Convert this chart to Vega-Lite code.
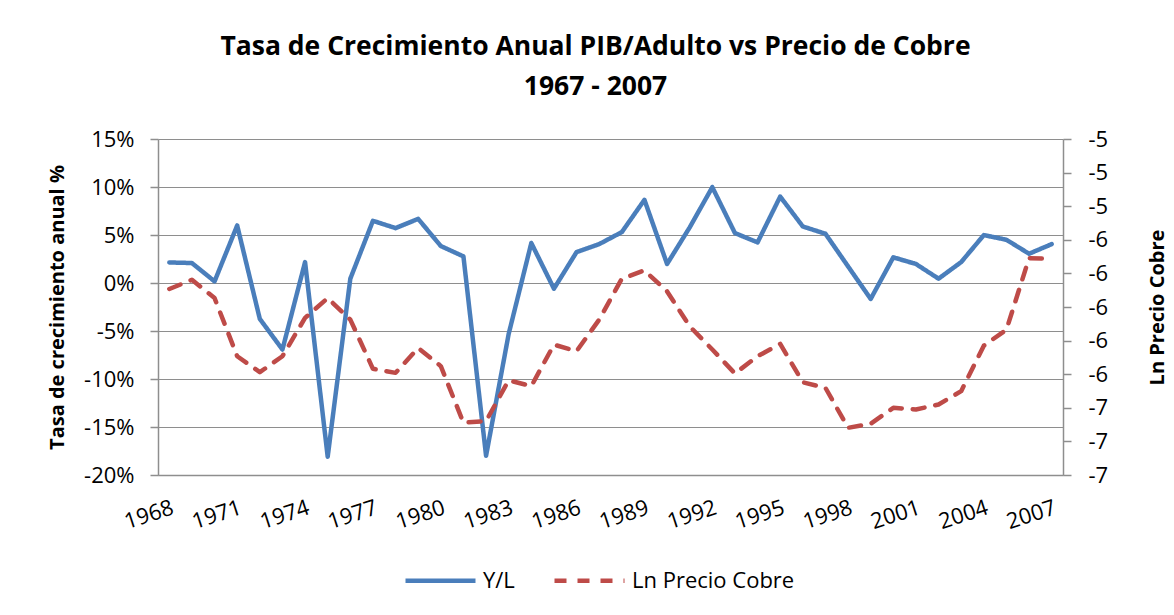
{
  "$schema": "https://vega.github.io/schema/vega-lite/v6.json",
  "width": 905,
  "height": 336,
  "autosize": {"type": "none"},
  "padding": {"left": 158, "top": 139, "right": 111, "bottom": 140},
  "background": "white",
  "title": {
    "text": ["Tasa de Crecimiento Anual PIB/Adulto vs Precio de Cobre", "1967 - 2007"],
    "font": "Open Sans",
    "fontSize": 26.5,
    "fontWeight": "bold",
    "color": "black",
    "anchor": "middle",
    "offset": 28,
    "lineHeight": 40,
    "dx": -15
  },
  "config": {
    "view": {"stroke": null},
    "font": "Open Sans",
    "axis": {
      "labelFont": "Open Sans",
      "titleFont": "Open Sans",
      "labelColor": "black",
      "titleColor": "black",
      "labelFontSize": 22,
      "titleFontSize": 20,
      "titleFontWeight": "bold",
      "domainColor": "#8E8E8E",
      "tickColor": "#8E8E8E",
      "gridColor": "#8E8E8E",
      "domainWidth": 1.5,
      "tickWidth": 1.5,
      "gridWidth": 1.2
    },
    "legend": {
      "labelFont": "Open Sans",
      "labelFontSize": 22,
      "labelColor": "black",
      "labelLimit": 400
    }
  },
  "data": {
    "values": [
      {"year": 1968, "serie": "Y/L", "value": 2.14},
      {"year": 1969, "serie": "Y/L", "value": 2.08},
      {"year": 1970, "serie": "Y/L", "value": 0.17},
      {"year": 1971, "serie": "Y/L", "value": 5.99},
      {"year": 1972, "serie": "Y/L", "value": -3.74},
      {"year": 1973, "serie": "Y/L", "value": -6.93},
      {"year": 1974, "serie": "Y/L", "value": 2.18},
      {"year": 1975, "serie": "Y/L", "value": -18.1},
      {"year": 1976, "serie": "Y/L", "value": 0.45},
      {"year": 1977, "serie": "Y/L", "value": 6.48},
      {"year": 1978, "serie": "Y/L", "value": 5.72},
      {"year": 1979, "serie": "Y/L", "value": 6.68},
      {"year": 1980, "serie": "Y/L", "value": 3.85},
      {"year": 1981, "serie": "Y/L", "value": 2.77},
      {"year": 1982, "serie": "Y/L", "value": -18.0},
      {"year": 1983, "serie": "Y/L", "value": -5.3},
      {"year": 1984, "serie": "Y/L", "value": 4.16},
      {"year": 1985, "serie": "Y/L", "value": -0.59},
      {"year": 1986, "serie": "Y/L", "value": 3.22},
      {"year": 1987, "serie": "Y/L", "value": 4.05},
      {"year": 1988, "serie": "Y/L", "value": 5.3},
      {"year": 1989, "serie": "Y/L", "value": 8.66},
      {"year": 1990, "serie": "Y/L", "value": 1.98},
      {"year": 1991, "serie": "Y/L", "value": 5.79},
      {"year": 1992, "serie": "Y/L", "value": 9.98},
      {"year": 1993, "serie": "Y/L", "value": 5.2},
      {"year": 1994, "serie": "Y/L", "value": 4.23},
      {"year": 1995, "serie": "Y/L", "value": 9.0},
      {"year": 1996, "serie": "Y/L", "value": 5.89},
      {"year": 1997, "serie": "Y/L", "value": 5.13},
      {"year": 1998, "serie": "Y/L", "value": 1.73},
      {"year": 1999, "serie": "Y/L", "value": -1.66},
      {"year": 2000, "serie": "Y/L", "value": 2.67},
      {"year": 2001, "serie": "Y/L", "value": 1.98},
      {"year": 2002, "serie": "Y/L", "value": 0.45},
      {"year": 2003, "serie": "Y/L", "value": 2.18},
      {"year": 2004, "serie": "Y/L", "value": 4.99},
      {"year": 2005, "serie": "Y/L", "value": 4.5},
      {"year": 2006, "serie": "Y/L", "value": 3.05},
      {"year": 2007, "serie": "Y/L", "value": 4.05},
      {"year": 1968, "serie": "Ln Precio Cobre", "value": -5.893},
      {"year": 1969, "serie": "Ln Precio Cobre", "value": -5.838},
      {"year": 1970, "serie": "Ln Precio Cobre", "value": -5.947},
      {"year": 1971, "serie": "Ln Precio Cobre", "value": -6.293},
      {"year": 1972, "serie": "Ln Precio Cobre", "value": -6.388},
      {"year": 1973, "serie": "Ln Precio Cobre", "value": -6.293},
      {"year": 1974, "serie": "Ln Precio Cobre", "value": -6.065},
      {"year": 1975, "serie": "Ln Precio Cobre", "value": -5.947},
      {"year": 1976, "serie": "Ln Precio Cobre", "value": -6.075},
      {"year": 1977, "serie": "Ln Precio Cobre", "value": -6.368},
      {"year": 1978, "serie": "Ln Precio Cobre", "value": -6.392},
      {"year": 1979, "serie": "Ln Precio Cobre", "value": -6.244},
      {"year": 1980, "serie": "Ln Precio Cobre", "value": -6.352},
      {"year": 1981, "serie": "Ln Precio Cobre", "value": -6.689},
      {"year": 1982, "serie": "Ln Precio Cobre", "value": -6.679},
      {"year": 1983, "serie": "Ln Precio Cobre", "value": -6.436},
      {"year": 1984, "serie": "Ln Precio Cobre", "value": -6.471},
      {"year": 1985, "serie": "Ln Precio Cobre", "value": -6.224},
      {"year": 1986, "serie": "Ln Precio Cobre", "value": -6.263},
      {"year": 1987, "serie": "Ln Precio Cobre", "value": -6.075},
      {"year": 1988, "serie": "Ln Precio Cobre", "value": -5.832},
      {"year": 1989, "serie": "Ln Precio Cobre", "value": -5.782},
      {"year": 1990, "serie": "Ln Precio Cobre", "value": -5.907},
      {"year": 1991, "serie": "Ln Precio Cobre", "value": -6.115},
      {"year": 1992, "serie": "Ln Precio Cobre", "value": -6.253},
      {"year": 1993, "serie": "Ln Precio Cobre", "value": -6.396},
      {"year": 1994, "serie": "Ln Precio Cobre", "value": -6.293},
      {"year": 1995, "serie": "Ln Precio Cobre", "value": -6.22},
      {"year": 1996, "serie": "Ln Precio Cobre", "value": -6.448},
      {"year": 1997, "serie": "Ln Precio Cobre", "value": -6.481},
      {"year": 1998, "serie": "Ln Precio Cobre", "value": -6.719},
      {"year": 1999, "serie": "Ln Precio Cobre", "value": -6.695},
      {"year": 2000, "serie": "Ln Precio Cobre", "value": -6.6},
      {"year": 2001, "serie": "Ln Precio Cobre", "value": -6.61},
      {"year": 2002, "serie": "Ln Precio Cobre", "value": -6.58},
      {"year": 2003, "serie": "Ln Precio Cobre", "value": -6.501},
      {"year": 2004, "serie": "Ln Precio Cobre", "value": -6.23},
      {"year": 2005, "serie": "Ln Precio Cobre", "value": -6.135},
      {"year": 2006, "serie": "Ln Precio Cobre", "value": -5.709},
      {"year": 2007, "serie": "Ln Precio Cobre", "value": -5.713}
    ]
  },
  "encoding": {
    "x": {
      "field": "year",
      "type": "ordinal",
      "scale": {"type": "point", "padding": 0.5},
      "axis": {
        "values": [1968, 1971, 1974, 1977, 1980, 1983, 1986, 1989, 1992, 1995, 1998, 2001, 2004, 2007],
        "title": null,
        "ticks": false,
        "grid": false,
        "labelAngle": -18,
        "labelAlign": "right",
        "labelBaseline": "top",
        "labelPadding": 22,
        "labelOverlap": false,
        "labelFlush": false
      }
    },
    "color": {
      "field": "serie",
      "type": "nominal",
      "scale": {"domain": ["Y/L", "Ln Precio Cobre"], "range": ["#4A7EBB", "#BE4B48"]},
      "legend": {
        "title": null,
        "orient": "none",
        "direction": "horizontal",
        "legendX": 245,
        "legendY": 404,
        "symbolType": "stroke",
        "symbolSize": 4900,
        "symbolStrokeWidth": 4.5,
        "labelOffset": 5,
        "labelLimit": 400,
        "columnPadding": 30
      }
    },
    "strokeDash": {
      "field": "serie",
      "type": "nominal",
      "scale": {"domain": ["Y/L", "Ln Precio Cobre"], "range": [[1, 0], [12, 11]]},
      "legend": {
        "title": null,
        "orient": "none",
        "direction": "horizontal",
        "legendX": 245,
        "legendY": 404,
        "symbolType": "stroke",
        "symbolSize": 4900,
        "symbolStrokeWidth": 4.5,
        "labelOffset": 5,
        "labelLimit": 400,
        "columnPadding": 30
      }
    }
  },
  "layer": [
    {
      "transform": [{"filter": "datum.serie == 'Y/L'"}],
      "mark": {"type": "line", "strokeWidth": 4.5, "strokeCap": "round", "strokeJoin": "round"},
      "encoding": {
        "y": {
          "field": "value",
          "type": "quantitative",
          "scale": {"domain": [-20, 15], "nice": false, "zero": false},
          "axis": {
            "orient": "left",
            "values": [-20, -15, -10, -5, 0, 5, 10, 15],
            "labelExpr": "datum.value + '%'",
            "grid": true,
            "tickSize": 8,
            "labelPadding": 16,
            "title": "Tasa de crecimiento anual %",
            "titlePadding": 16
          }
        }
      }
    },
    {
      "transform": [{"filter": "datum.serie == 'Ln Precio Cobre'"}],
      "mark": {"type": "line", "strokeWidth": 4.5, "strokeCap": "round", "strokeJoin": "round"},
      "encoding": {
        "y": {
          "field": "value",
          "type": "quantitative",
          "scale": {"domain": [-7, -5], "nice": false, "zero": false},
          "axis": {
            "orient": "right",
            "values": [-7, -6.8, -6.6, -6.4, -6.2, -6, -5.8, -5.6, -5.4, -5.2, -5],
            "labelExpr": "'' + round(datum.value)",
            "grid": false,
            "tickSize": 8,
            "labelPadding": 17,
            "title": "Ln Precio Cobre",
            "titleAngle": 270,
            "titleBaseline": "top",
            "titlePadding": 40
          }
        }
      }
    }
  ],
  "resolve": {"scale": {"y": "independent"}}
}
